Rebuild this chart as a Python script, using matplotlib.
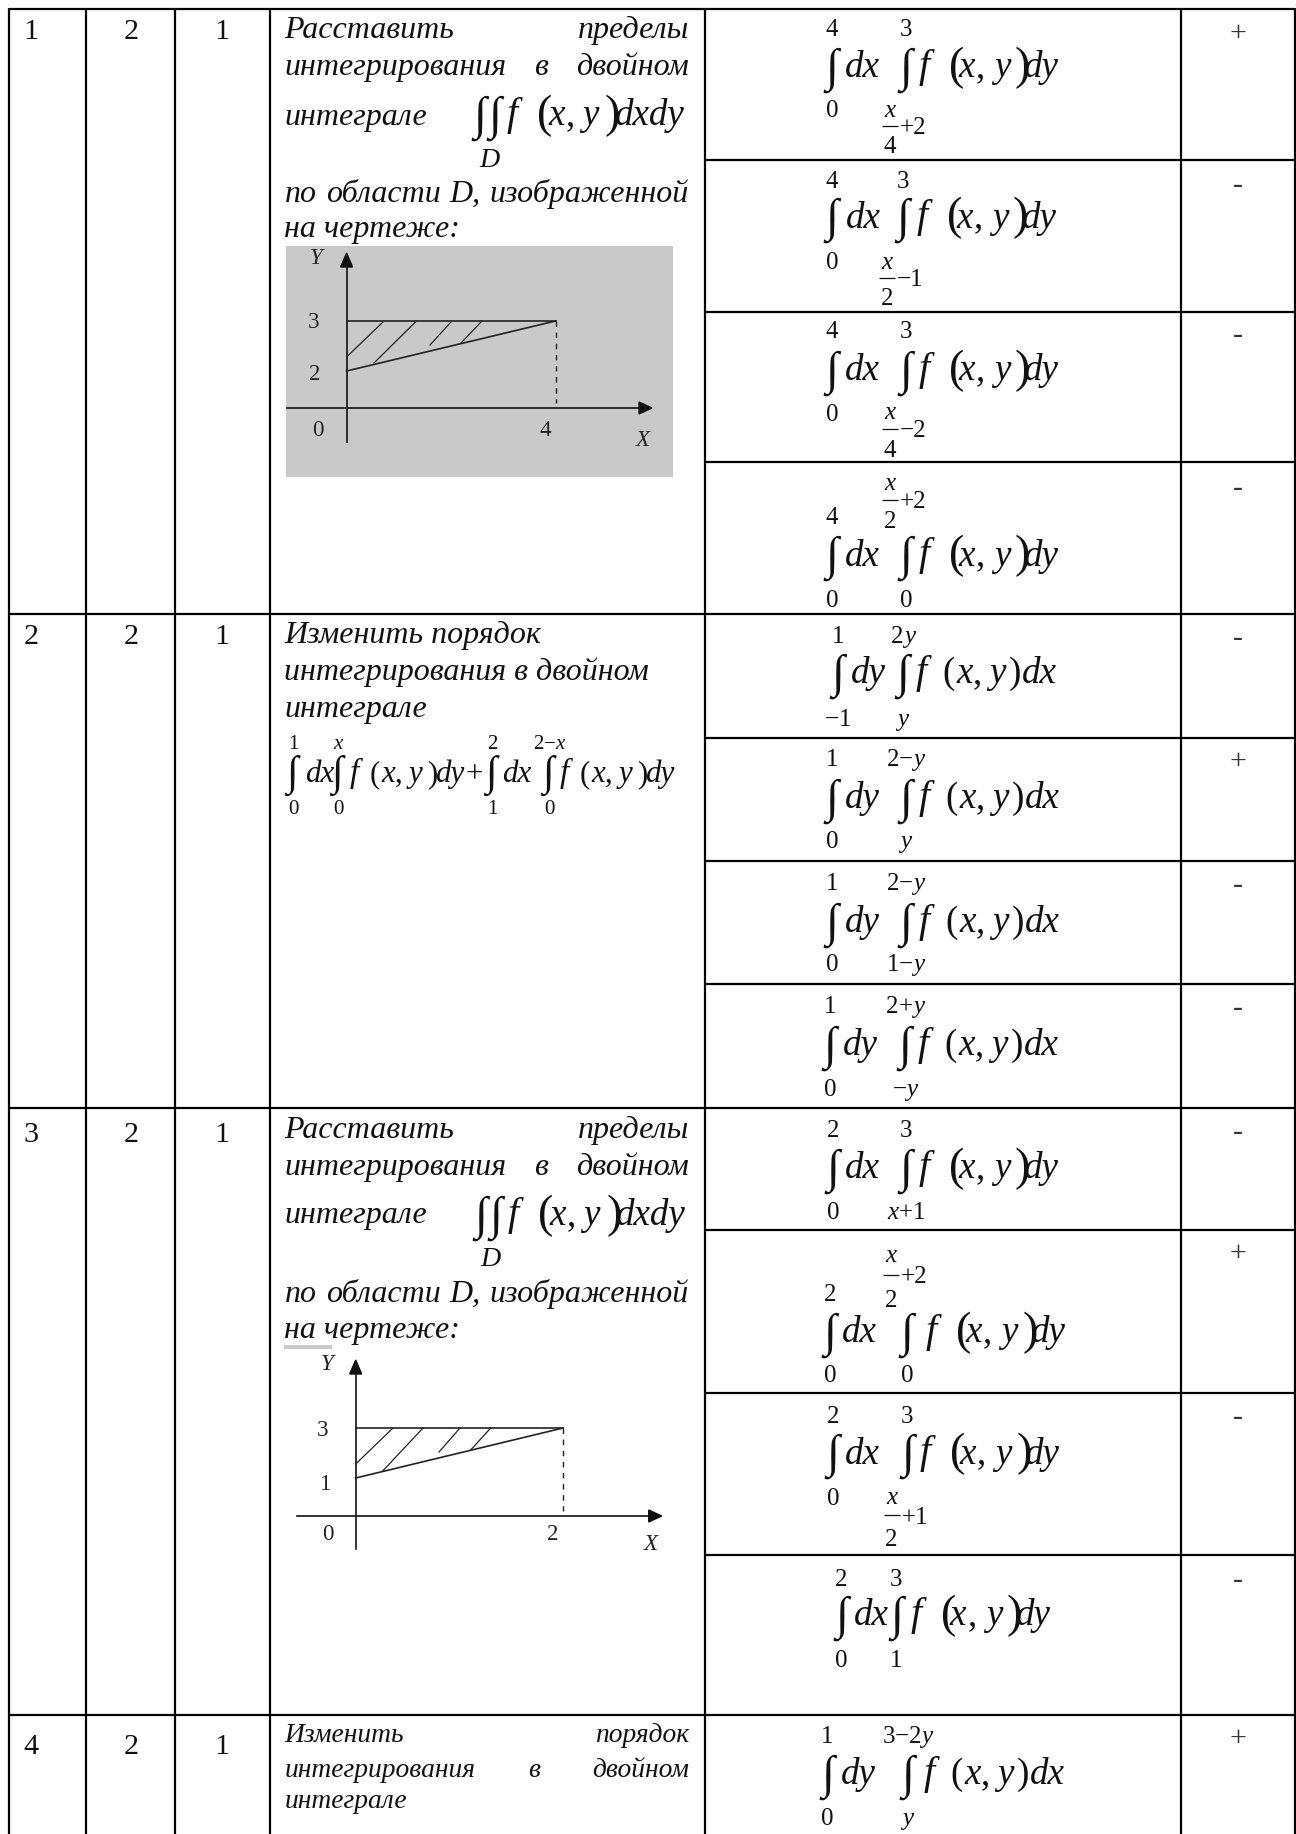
import matplotlib
matplotlib.use("Agg")
import matplotlib.pyplot as plt
from matplotlib.patches import Rectangle, Polygon

# ---------- content ----------
row_numbers = ["1", "2", "3", "4"]
col_two = ["2", "2", "2", "2"]
col_three = ["1", "1", "1", "1"]
marks = ["+", "-", "-", "-", "-", "+", "-", "-", "-", "+", "-", "-", "+"]

outer_upper = ["4", "4", "4", "4", "1", "1", "1", "1", "2", "2", "2", "2", "1"]
outer_lower = ["0", "0", "0", "0", "\u22121", "0", "0", "0", "0", "0", "0", "0", "0"]
inner_upper = ["3", "3", "3", ("x", "2", "+2"), "2y", "2\u2212y", "2\u2212y", "2+y", "3", ("x", "2", "+2"), "3", "3", "3\u22122y"]
inner_lower = [("x", "4", "+2"), ("x", "2", "\u22121"), ("x", "4", "\u22122"), "0", "y", "y", "1\u2212y", "\u2212y",
               "x+1", "0", ("x", "2", "+1"), "1", "y"]
differentials = ["dx", "dx", "dx", "dx", "dy", "dy", "dy", "dy", "dx", "dx", "dx", "dx", "dy"]

# ---------- layout (pixels) ----------
W, H = 1296, 1834
col_x = [9, 86, 175, 270, 705, 1181, 1295]
row_y = [9, 614, 1108, 1715]
answer_y = [160, 312, 462, 737.5, 861, 984, 1230, 1393, 1555]
outer_x = [832, 832, 832, 832, 838, 832, 832, 830, 833, 830, 833, 841.6, 827.5]
inner_x = [906, 903, 906, 906, 903, 905.6, 905.6, 905, 906, 907, 907.5, 896.4, 907.5]
dx_x = [845, 845.5, 845, 845, 851, 845, 845, 843, 845, 842, 845, 854, 841]
f_x = [919, 917, 919, 919, 916, 919, 919, 918, 919, 926, 920, 910.6, 924]
center_y = [67, 217.5, 370, 555.5, 673, 798, 922, 1045, 1168, 1332, 1453.5, 1615, 1774]
upper_y = [28, 180, 330, 516, 635, 758, 882, 1005, 1129, 1293, 1415, 1577.5, 1735]
inner_upper_y = [28, 180, 330, 482, 635, 758, 882, 1005, 1129, 1254, 1415, 1577.5, 1735]
lower_y = [109, 261, 413, 599, 718, 840, 963, 1088, 1211, 1374, 1497, 1658.5, 1817]
inner_lower_y = [109, 261, 411, 599, 718, 840, 963, 1088, 1211, 1374, 1495.6, 1658.5, 1817]
frac_den_gap = [36, 36, 38, 38, 36, 36, 36, 36, 36, 45, 42, 36, 36]
mark_y = [31, 182.7, 333, 485.5, 636, 759, 883, 1006, 1130, 1251, 1415, 1577.5, 1736]
number_baseline = [39, 644, 1142, 1754]

BODY = 32
PT = 0.72  # px -> pt at dpi=100
plt.rcParams["font.family"] = ["Liberation Serif", "DejaVu Sans"]

fig = plt.figure(figsize=(W / 100, H / 100), dpi=100, facecolor="white")
ax = fig.add_axes([0, 0, 1, 1])
ax.set_xlim(0, W)
ax.set_ylim(H, 0)
ax.axis("off")
INK = "#111111"


def T(x, y, s, size=BODY, italic=False, ha="left", va="baseline", color=INK, **kw):
    return ax.text(x, y, s, fontsize=size * PT, style="italic" if italic else "normal",
                   ha=ha, va=va, color=color, **kw)


def justify(words, x0, x1, y, size=BODY):
    r = fig.canvas.get_renderer()
    items = [T(x0, y, w, size, True) for w in words]
    widths = [t.get_window_extent(r).width for t in items]
    gap = (x1 - x0 - sum(widths)) / (len(words) - 1)
    x = x0
    for t, w in zip(items, widths):
        t.set_x(x)
        x += w + gap


def integral(x, yc, height=47):
    T(x, yc + height * 0.29, "\u222b", height, False, ha="center")


def limit(x, y, item, size=25, gap=36):
    if isinstance(item, tuple):
        num, den, tail = item
        bar_y = y + gap * 0.47
        T(x - 16, y + size * 0.33, num, size, True, ha="center")
        ax.plot([x - 24, x - 8], [bar_y, bar_y], color=INK, lw=0.9, solid_capstyle="butt")
        T(x - 16, y + gap + size * 0.33, den, size, False, ha="center")
        T(x - 6, bar_y + size * 0.33, tail, size, False)
    else:
        r = fig.canvas.get_renderer()
        items = [T(0, y + size * 0.33, c, size, c in "xy") for c in item]
        widths = [t.get_window_extent(r).width for t in items]
        xp = x - sum(widths) / 2
        for t, w in zip(items, widths):
            t.set_x(xp)
            xp += w


def body(x, yc, diff, size=37):
    base = yc + 10
    T(x, base, "f", size + 3, True)
    if diff == "dx":  # outer dx -> inner dy, tall brackets
        T(x + 30, base + 2, "(", 46)
        T(x + 39, base, "x", size, True)
        T(x + 57, base, ",", size)
        T(x + 75, base, "y", size, True)
        T(x + 96, base + 2, ")", 46)
        T(x + 105, base, "dy", size, True)
    else:
        T(x + 26, base, "(", size)
        T(x + 40, base, "x", size, True)
        T(x + 57, base, ",", size)
        T(x + 73, base, "y", size, True)
        T(x + 93, base, ")", size)
        T(x + 106, base, "dx", size, True)


# ---------- grid ----------
for x in col_x:
    ax.plot([x, x], [8, H], color="black", lw=1.6, solid_capstyle="butt")
for y in row_y:
    ax.plot([col_x[0], col_x[-1]], [y, y], color="black", lw=1.6, solid_capstyle="butt")
for y in answer_y:
    ax.plot([col_x[4], col_x[-1]], [y, y], color="black", lw=1.6, solid_capstyle="butt")

# ---------- first columns ----------
for n, a, b, y in zip(row_numbers, col_two, col_three, number_baseline):
    T(31, y, n, 30, ha="center")
    T(131, y, a, 30, ha="center")
    T(222, y, b, 30, ha="center")

# ---------- question text ----------
L, R = 284.5, 689
justify(["Расставить", "пределы"], L, R, 38)
justify(["интегрирования", "в", "двойном"], L, R, 75)
T(L, 125, "интеграле", italic=True)
justify(["по", "области", "D,", "изображенной"], L, R, 201.7)
T(L, 236.7, "на чертеже:", italic=True)

T(L, 643, "Изменить порядок", italic=True)
T(L, 680, "интегрирования в двойном", italic=True)
T(L, 717, "интеграле", italic=True)

justify(["Расставить", "пределы"], L, R, 1138)
justify(["интегрирования", "в", "двойном"], L, R, 1175)
T(L, 1223, "интеграле", italic=True)
justify(["по", "области", "D,", "изображенной"], L, R, 1302)
T(L, 1338, "на чертеже:", italic=True)

justify(["Изменить", "порядок"], L, R, 1742, 27.5)
justify(["интегрирования", "в", "двойном"], L, R, 1777, 27.5)
T(L, 1808, "интеграле", 27.5, True)


def double_integral(xc, yc, f_start, base, d_base):
    integral(xc - 9, yc)
    integral(xc + 6, yc)
    T(xc, d_base, "D", 28, True, ha="center")
    T(f_start, base, "f", 40, True)
    T(f_start + 30, base + 2, "(", 46)
    T(f_start + 41, base, "x", 37, True)
    T(f_start + 59, base, ",", 37)
    T(f_start + 75, base, "y", 37, True)
    T(f_start + 98, base + 2, ")", 46)
    T(f_start + 108, base, "dxdy", 37, True)


double_integral(489, 115, 507, 125, 166.7)
double_integral(490, 1215, 508, 1225, 1266)

# row 2 statement formula
for x, up, lo in zip([292, 337, 491, 548], ["1", "x", "2", "2\u2212x"], ["0", "0", "1", "0"]):
    integral(x, 773, 42)
    limit(x + 1, 742, up, 21)
    limit(x + 1, 807, lo, 21)
for f0, d0, tail in [(350, 305, "dy"), (560, 502, "dy")]:
    T(d0, 782, "dx", 31, True)
    T(f0, 782, "f", 33, True)
    T(f0 + 20, 782, "(", 31)
    T(f0 + 31, 782, "x", 31, True)
    T(f0 + 45, 782, ",", 31)
    T(f0 + 59, 782, "y", 31, True)
    T(f0 + 77, 782, ")", 31)
    T(f0 + 85, 782, tail, 31, True)
T(474, 782, "+", 31, ha="center")

# ---------- answers ----------
for i in range(len(marks)):
    integral(outer_x[i], center_y[i])
    integral(inner_x[i], center_y[i])
    limit(outer_x[i], upper_y[i], outer_upper[i])
    limit(outer_x[i], lower_y[i], outer_lower[i])
    limit(inner_x[i], inner_upper_y[i], inner_upper[i], gap=frac_den_gap[i])
    limit(inner_x[i], inner_lower_y[i], inner_lower[i], gap=frac_den_gap[i])
    T(dx_x[i], center_y[i] + 10, differentials[i], 37, True)
    body(f_x[i], center_y[i], differentials[i])
    T(1238, mark_y[i] + 10, marks[i], 30, ha="center", color="#333333")


# ---------- small region drawings ----------
def drawing(org_x, axis_y, top_y, end_x, low_y, axis_top, axis_bottom, axis_left, axis_right,
            hatch, labels):
    ax.plot([org_x, org_x], [axis_top + 8, axis_bottom], color=INK, lw=1.2)
    ax.add_patch(Polygon([[org_x - 6, axis_top + 14], [org_x + 6, axis_top + 14], [org_x, axis_top]], color=INK))
    ax.plot([axis_left, axis_right - 8], [axis_y, axis_y], color=INK, lw=1.2)
    ax.add_patch(Polygon([[axis_right - 13, axis_y - 6], [axis_right - 13, axis_y + 6], [axis_right, axis_y]], color=INK))
    ax.plot([org_x, end_x], [top_y, top_y], color="#222222", lw=1.2)
    ax.plot([org_x, end_x], [low_y, top_y], color="#222222", lw=1.2)
    ax.plot([end_x, end_x], [top_y, axis_y - 5], color="#222222", lw=1.0, dashes=(4, 4))
    for x0, y0, x1, y1 in hatch:
        ax.plot([x0, x1], [y0, y1], color="#222222", lw=0.9)
    for x, y, s, it in labels:
        T(x, y + 7.5, s, 23, it, ha="center", color="#222222")


ax.add_patch(Rectangle((285.5, 246), 387.5, 231, color="#c9c9c9", lw=0))
drawing(346.6, 408, 321, 555.5, 371, 253, 442, 287, 652,
        [(346.6, 357, 383, 322), (374, 363, 415.5, 322), (430, 345, 451, 322), (461, 343, 482, 321)],
        [(316, 257, "Y", True), (313.6, 320, "3", False), (315, 373, "2", False),
         (318, 428, "0", False), (545, 428, "4", False), (643, 438, "X", True)])

ax.add_patch(Rectangle((284, 1345), 48, 4, color="#c9c9c9", lw=0))
drawing(355.7, 1516, 1428, 563, 1478, 1360, 1549, 296.7, 661.7,
        [(355.7, 1464, 393, 1428), (382.7, 1471, 423, 1428), (439, 1452, 460, 1428), (470.7, 1450, 490.7, 1428)],
        [(326.7, 1363, "Y", True), (322.7, 1428, "3", False), (325.7, 1482, "1", False),
         (328, 1533, "0", False), (553, 1532, "2", False), (650.7, 1543, "X", True)])

fig.savefig("out.png", dpi=100, facecolor="white")
